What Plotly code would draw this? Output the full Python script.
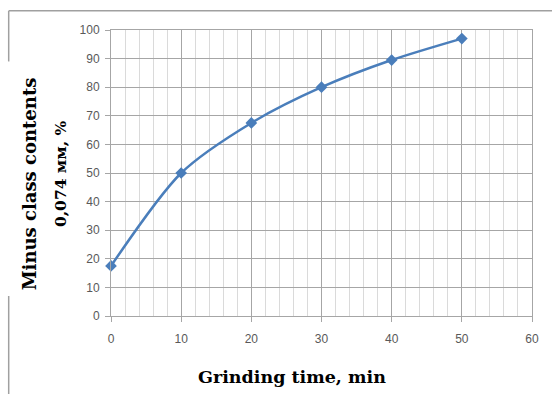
import plotly.graph_objects as go

time_min = [0, 10, 20, 30, 40, 50]
minus_class = [17.5, 50, 67.5, 80, 89.5, 97]
x_ticks = [0, 10, 20, 30, 40, 50, 60]
y_ticks = [0, 10, 20, 30, 40, 50, 60, 70, 80, 90, 100]

blue = "#4A7EBB"
serif = "DejaVu Serif, Liberation Serif, serif"
fig = go.Figure()
fig.add_trace(go.Scatter(
    x=time_min, y=minus_class, mode="lines+markers",
    line=dict(color=blue, width=2.5, shape="spline", smoothing=0.8),
    marker=dict(symbol="diamond", size=9, color=blue),
    showlegend=False, cliponaxis=False,
))

fig.update_layout(
    width=552, height=394,
    margin=dict(l=111, r=20, t=30, b=78),
    paper_bgcolor="white", plot_bgcolor="white",
    font=dict(family="Liberation Sans, Arial, sans-serif", size=12, color="#595959"),
    xaxis=dict(
        range=[0, 60], tickvals=x_ticks, showgrid=True, gridcolor="#A6A6A6", gridwidth=1,
        minor=dict(dtick=2, showgrid=True, gridcolor="#DADADA", gridwidth=1),
        ticks="outside", ticklen=5, tickcolor="#A6A6A6",
        showline=True, linecolor="#A6A6A6", linewidth=1, mirror=True,
        zeroline=False, ticklabelstandoff=7,
    ),
    yaxis=dict(
        range=[0, 100], tickvals=y_ticks, showgrid=True, gridcolor="#A6A6A6", gridwidth=1,
        ticks="outside", ticklen=5, tickcolor="#A6A6A6",
        showline=True, linecolor="#A6A6A6", linewidth=1, mirror=True,
        zeroline=False, ticklabelstandoff=3,
    ),
    annotations=[
        dict(text="<b>Minus class contents</b>", xref="paper", yref="paper",
             x=-0.194, y=0.4615, xanchor="center", yanchor="middle", textangle=-90, showarrow=False,
             font=dict(family=serif, size=18, color="black")),
        dict(text="<b>0,074 мм, %</b>", xref="paper", yref="paper",
             x=-0.121, y=0.4965, xanchor="center", yanchor="middle", textangle=-90, showarrow=False,
             font=dict(family=serif, size=15.5, color="black")),
        dict(text="<b>Grinding time, min</b>", xref="paper", yref="paper",
             x=0.43, y=-0.213, xanchor="center", yanchor="middle", showarrow=False,
             font=dict(family=serif, size=17.5, color="black")),
    ],
    shapes=[
        dict(type="line", xref="paper", yref="paper", x0=-0.243, x1=1.05, y0=1.067, y1=1.067,
             line=dict(color="#A0A0A0", width=1.5)),
        dict(type="line", xref="paper", yref="paper", x0=-0.243, x1=-0.243, y0=1.067, y1=0.89,
             line=dict(color="#A0A0A0", width=1.5)),
        dict(type="line", xref="paper", yref="paper", x0=-0.243, x1=-0.243, y0=0.07, y1=-0.275,
             line=dict(color="#A0A0A0", width=1.5)),
    ],
)
fig.write_html("out.html", config={"displayModeBar": False},
               post_script="document.body.style.margin='0';")
